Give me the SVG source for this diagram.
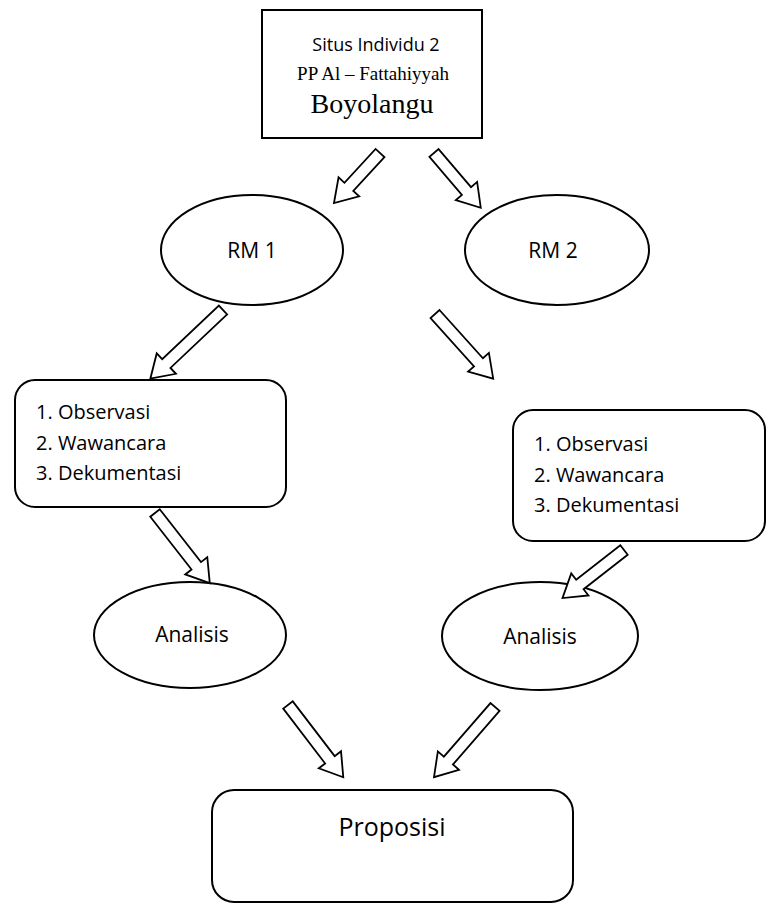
<svg xmlns="http://www.w3.org/2000/svg" width="780" height="904" viewBox="0 0 780 904">
<style>
.sh{fill:#fff;stroke:#000;stroke-width:2}
.ar{fill:#fff;stroke:#000;stroke-width:1.8;stroke-linejoin:miter}
.sans{font-family:"Open Sans","Noto Sans","Liberation Sans",sans-serif;fill:#000}
.serif{font-family:"Liberation Serif","Times New Roman",serif;fill:#000}
.li{font-size:20px}
</style>
<rect width="780" height="904" fill="#fff"/>
<g id="situs">
<rect class="sh" x="262" y="10" width="220" height="128"/>
<text class="sans" x="376" y="51" font-size="18" text-anchor="middle">Situs Individu 2</text>
<text class="serif" x="373" y="80" font-size="19" text-anchor="middle">PP Al – Fattahiyyah</text>
<text class="serif" x="372" y="113" font-size="28" text-anchor="middle">Boyolangu</text>
</g>
<g id="rm1">
<ellipse class="sh" cx="252" cy="250" rx="91" ry="55"/>
<text class="sans" x="252" y="258" font-size="21" text-anchor="middle">RM 1</text>
</g>
<g id="rm2">
<ellipse class="sh" cx="557" cy="250" rx="92" ry="55"/>
<text class="sans" x="553" y="258" font-size="21" text-anchor="middle">RM 2</text>
</g>
<g id="metode1">
<rect class="sh" x="15" y="380" width="271" height="127" rx="20"/>
<text class="sans li" x="36" y="419">1. Observasi</text>
<text class="sans li" x="36" y="450">2. Wawancara</text>
<text class="sans li" x="36" y="480">3. Dekumentasi</text>
</g>
<g id="metode2">
<rect class="sh" x="513" y="410" width="252" height="131" rx="20"/>
<text class="sans li" x="534" y="451">1. Observasi</text>
<text class="sans li" x="534" y="482">2. Wawancara</text>
<text class="sans li" x="534" y="512">3. Dekumentasi</text>
</g>
<g id="analisis1">
<ellipse class="sh" cx="190" cy="635" rx="96" ry="53"/>
<text class="sans" x="192" y="642" font-size="21" text-anchor="middle">Analisis</text>
</g>
<g id="analisis2">
<ellipse class="sh" cx="540" cy="636" rx="98" ry="54"/>
<text class="sans" x="540" y="644" font-size="21" text-anchor="middle">Analisis</text>
</g>
<g id="proposisi">
<rect class="sh" x="212" y="790" width="361" height="112" rx="22"/>
<text class="sans" x="392" y="836" font-size="25" text-anchor="middle">Proposisi</text>
</g>
<g id="connectors">
<polygon class="ar" transform="translate(380,153) rotate(132.6)" points="0,-6 46,-6 46,-14 68,0 46,14 46,6 0,6"/>
<polygon class="ar" transform="translate(434,153) rotate(49.5)" points="0,-6 50,-6 50,-14 72,0 50,14 50,6 0,6"/>
<polygon class="ar" transform="translate(223,310) rotate(136.6)" points="0,-6 78,-6 78,-14 100,0 78,14 78,6 0,6"/>
<polygon class="ar" transform="translate(435,314) rotate(48)" points="0,-6 65,-6 65,-14 87,0 65,14 65,6 0,6"/>
<polygon class="ar" transform="translate(155,513) rotate(52)" points="0,-6 67,-6 67,-14 89,0 67,14 67,6 0,6"/>
<polygon class="ar" transform="translate(624,550) rotate(142)" points="0,-6 56,-6 56,-14 78,0 56,14 56,6 0,6"/>
<polygon class="ar" transform="translate(288,705) rotate(52.6)" points="0,-6 69,-6 69,-14 91,0 69,14 69,6 0,6"/>
<polygon class="ar" transform="translate(495,707) rotate(131)" points="0,-6 71,-6 71,-14 93,0 71,14 71,6 0,6"/>
</g>
</svg>
